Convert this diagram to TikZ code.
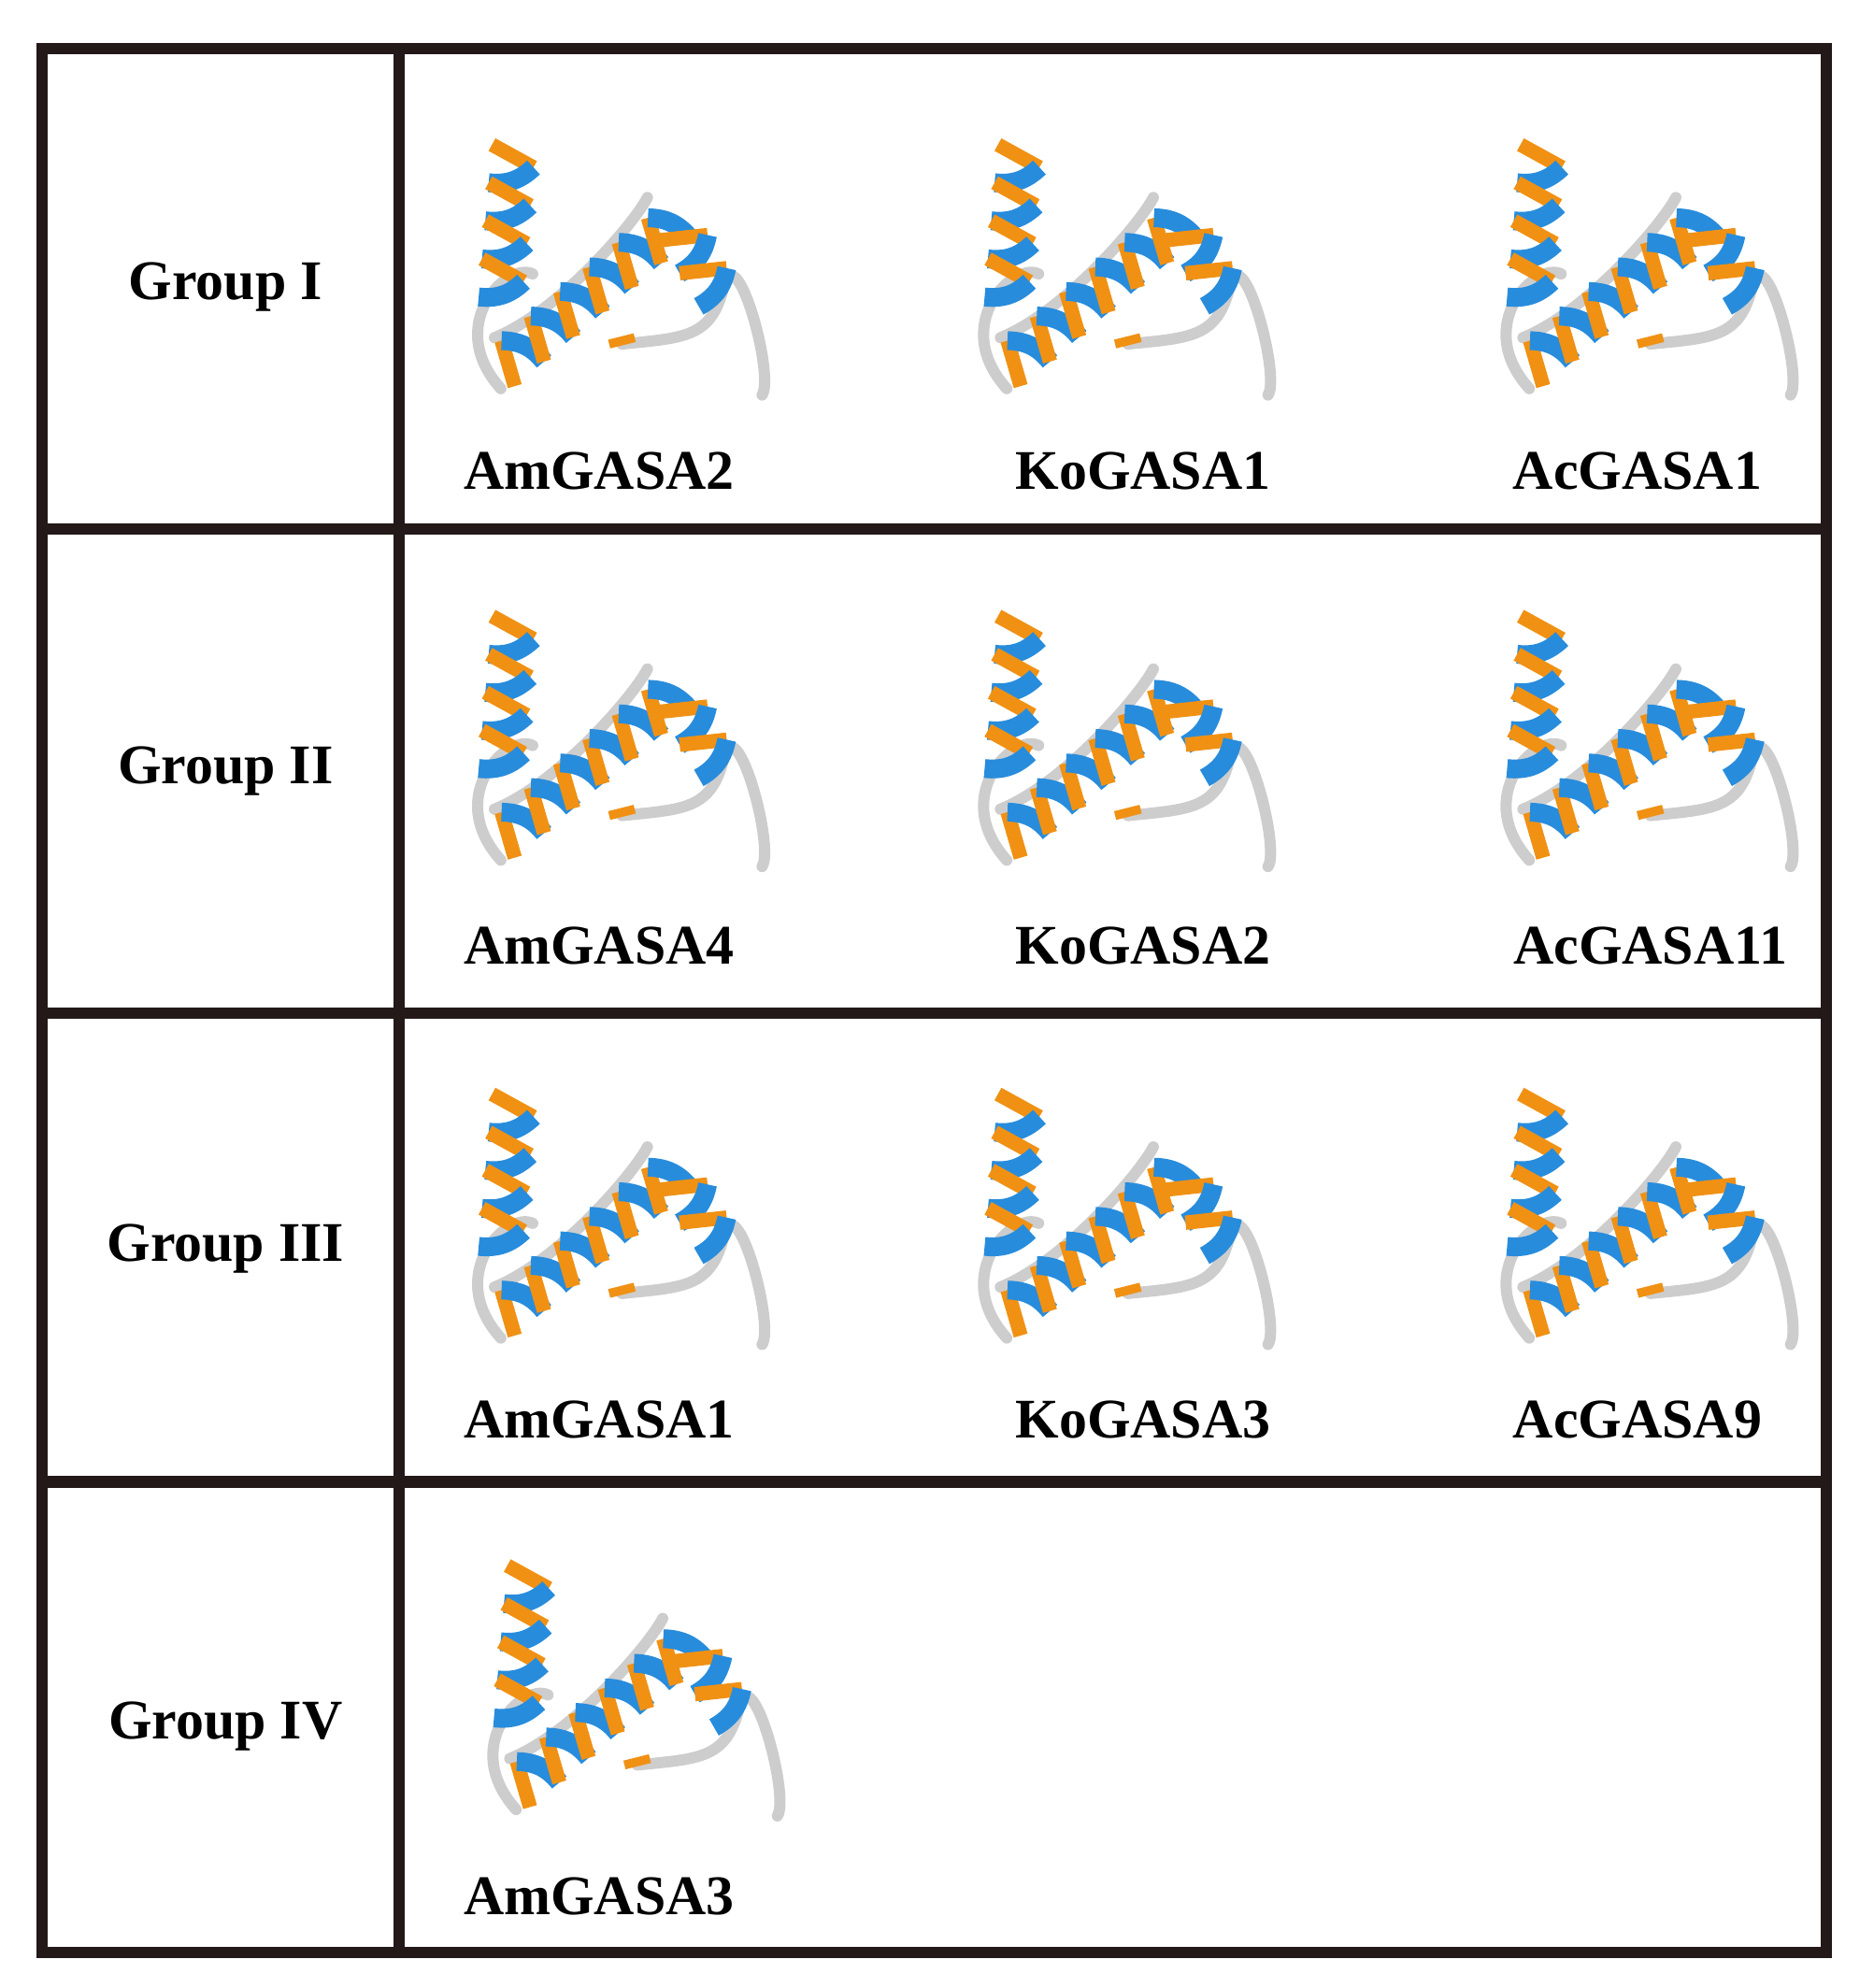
\documentclass[tikz,border=0pt]{standalone}
\usepackage{fontspec}
\setmainfont{Liberation Serif}
\definecolor{hblue}{RGB}{40,140,220}
\definecolor{horange}{RGB}{240,145,20}
\definecolor{loopg}{RGB}{205,205,205}
\definecolor{frame}{RGB}{35,25,25}
\tikzset{
 lbl/.style={font=\bfseries\fontsize{12.5}{15}\selectfont},
 grid/.style={draw=frame,line width=2.6pt},
 loopline/.style={draw=loopg,line width=2.5pt,line cap=round},
 pics/helix/.style n args={1}{code={
   \foreach \i in {1,...,#1}{
     \draw[horange,line width=3.2pt] ({(\i-1)*0.3},-0.17) -- ({(\i-1)*0.3+0.15},0.17);
     \draw[hblue,line width=4.2pt] ({(\i-1)*0.3+0.15},0.17) to[bend left=25] ({\i*0.3},-0.17);
   }}},
 pics/protein/.style={code={
   \draw[loopline] (-0.85,-0.9) .. controls (-1.3,-0.4) and (-0.8,0.1) .. (-0.6,0.0);
   \draw[loopline] (0.1,-0.55) .. controls (0.6,-0.5) and (0.8,-0.5) .. (0.9,-0.1)
                   .. controls (1.0,0.3) and (1.3,-0.8) .. (1.2,-0.95);
   \draw[loopline] (-0.9,-0.5) .. controls (-0.4,-0.3) and (0.2,0.4) .. (0.3,0.6);
   \draw[horange,line width=2pt] (0.0,-0.55) -- (0.2,-0.5);
   \pic[rotate=-95] at (-0.75,1.0) {helix=4};
   \pic[rotate=40] at (-0.85,-0.75) {helix=6};
   \pic[rotate=-60] at (0.55,0.35) {helix=2};
 }}
}
\begin{document}
\begin{tikzpicture}[x=1cm,y=1cm]
\useasboundingbox (0,0) rectangle (14.70,15.60);
% frame
\draw[grid] (0.33,0.28) rectangle (14.33,15.22);
\draw[grid] (3.13,0.28) -- (3.13,15.22);
\draw[grid] (0.33,11.45) -- (14.33,11.45);
\draw[grid] (0.33,7.65) -- (14.33,7.65);
\draw[grid] (0.33,3.97) -- (14.33,3.97);
% group labels
\node[lbl] (g1) at (1.77,13.35) {Group I};
\node[lbl] (g2) at (1.77,9.55) {Group II};
\node[lbl] (g3) at (1.77,5.80) {Group III};
\node[lbl] (g4) at (1.77,2.05) {Group IV};
% proteins
\foreach \x in {4.78,8.75,12.85}{
  \foreach \y in {13.45,9.75,6.00}{
    \pic at (\x,\y) {protein};
  }}
\pic at (4.90,2.30) {protein};
% names
\node[lbl] (a1) at (4.70,11.90) {AmGASA2};
\node[lbl] (a2) at (8.97,11.90) {KoGASA1};
\node[lbl] (a3) at (12.85,11.90) {AcGASA1};
\node[lbl] (b1) at (4.70,8.18) {AmGASA4};
\node[lbl] (b2) at (8.97,8.18) {KoGASA2};
\node[lbl] (b3) at (12.95,8.18) {AcGASA11};
\node[lbl] (c1) at (4.70,4.46) {AmGASA1};
\node[lbl] (c2) at (8.97,4.46) {KoGASA3};
\node[lbl] (c3) at (12.85,4.46) {AcGASA9};
\node[lbl] (d1) at (4.70,0.72) {AmGASA3};
\end{tikzpicture}
\end{document}
